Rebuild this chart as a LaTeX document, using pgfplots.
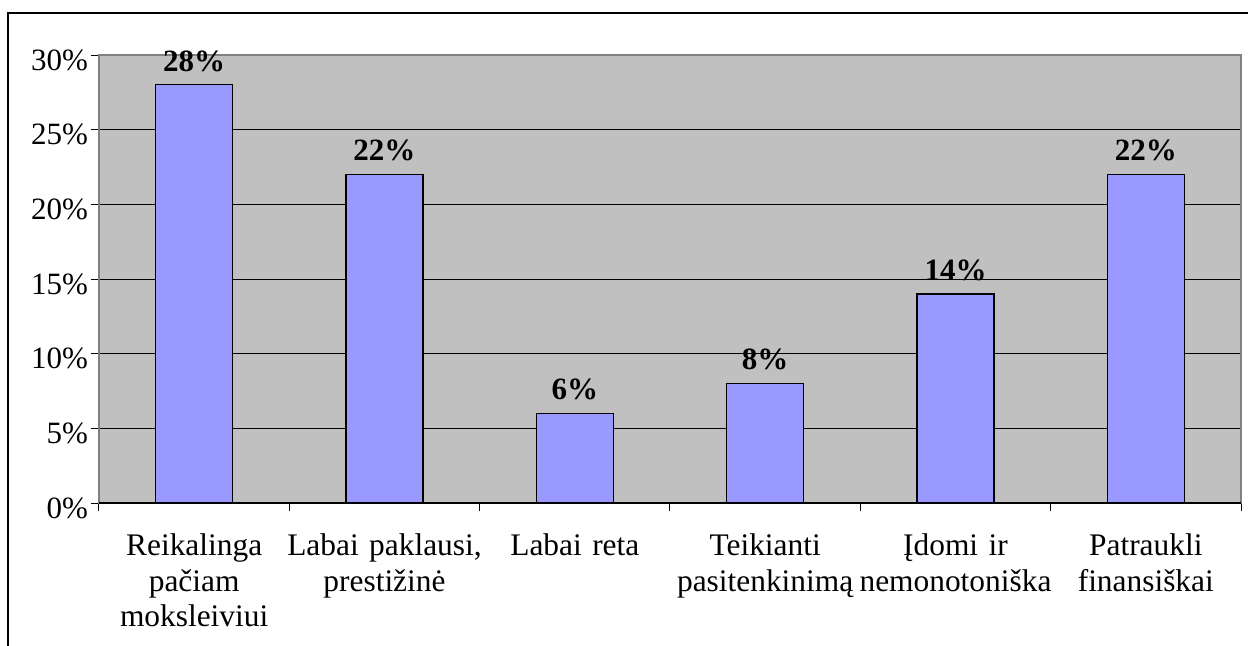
\documentclass[border=0pt]{standalone}
\usepackage{fontspec}
\setmainfont{Liberation Serif}
\usepackage{pgfplots}
\pgfplotsset{compat=1.18}
\definecolor{plotbg}{HTML}{C0C0C0}
\definecolor{barblue}{HTML}{9999FF}
\definecolor{edgegray}{HTML}{808080}

\begin{document}
\begin{tikzpicture}
\begin{axis}[
  at={(0,0)}, anchor=south west,
  scale only axis, width=571pt, height=224pt,
  xmin=-0.5, xmax=5.5, ymin=0, ymax=30,
  axis background/.style={fill=plotbg},
  axis line style={edgegray, line width=0.7pt},
  ybar, bar width=38.5pt,
  xtick={-0.5,0.5,...,5.5},
  xticklabels={},
  extra x ticks={0,...,5},
  extra x tick labels={{Reikalinga\\pačiam\\moksleiviui}, {Labai paklausi,\\prestižinė}, {Labai reta}, {Teikianti\\pasitenkinimą}, {Įdomi ir\\nemonotoniška}, {Patraukli\\finansiškai}},
  extra x tick style={major tick length=0pt},
  ytick={0,5,...,30},
  yticklabel={\pgfmathprintnumber{\tick}\%},
  /pgf/number format/assume math mode=true,
  tick align=outside, tick pos=left,
  major tick length=4pt,
  tick style={black, line width=0.5pt},
  ymajorgrids, grid style={black, line width=0.4pt},
  xticklabel style={align=center, text width=110pt, font=\fontsize{15.7}{17.6}\selectfont, yshift=-12pt},
  yticklabel style={font=\fontsize{15.5}{17.5}\selectfont, xshift=2pt, yshift=-2.5pt},
  nodes near coords={\pgfmathprintnumber{\pgfplotspointmeta}\%},
  nodes near coords style={font=\bfseries\fontsize{15.5}{17.5}\selectfont, black, yshift=3pt},
  clip=false,
]
\addplot[fill=barblue, draw=black, line width=0.6pt] coordinates {(0,28) (1,22) (2,6) (3,8) (4,14) (5,22)};
\draw[black, line width=0.7pt] (rel axis cs:0,0) -- (rel axis cs:1,0);
\end{axis}
\pgfresetboundingbox
\path[use as bounding box] (-49.5pt,-71pt) rectangle (574.5pt,251.5pt);
\draw[line width=1pt] (-45.25pt,-80pt) -- (-45.25pt,245.25pt) -- (580pt,245.25pt);
\end{tikzpicture}
\end{document}
